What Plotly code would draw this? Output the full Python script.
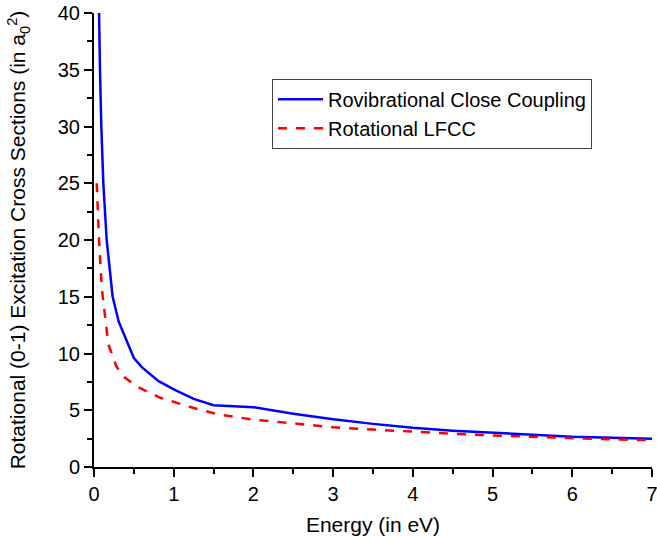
import plotly.graph_objects as go

# Rovibrational Close Coupling (blue, solid)
cc_energy = [0.05, 0.059, 0.075, 0.092, 0.117, 0.159, 0.234, 0.31, 0.41, 0.50, 0.60, 0.81, 1.02, 1.25, 1.5, 2.0, 2.5, 3.0, 3.5, 4.0, 4.5, 5.0, 5.5, 6.0, 6.5, 7.0]
cc_sigma = [46.0, 40.0, 35.0, 30.0, 25.0, 20.0, 15.0, 12.8, 11.1, 9.6, 8.8, 7.56, 6.77, 6.0, 5.45, 5.27, 4.7, 4.2, 3.8, 3.45, 3.2, 3.0, 2.82, 2.66, 2.57, 2.48]

# Rotational LFCC (red, dashed)
lfcc_energy = [0.034, 0.063, 0.097, 0.18, 0.285, 0.39, 0.535, 0.83, 1.25, 1.58, 2.0, 2.5, 3.0, 3.5, 4.0, 4.5, 5.0, 5.5, 6.0, 6.5, 7.0]
lfcc_sigma = [25.0, 20.0, 15.8, 10.8, 8.8, 7.86, 7.1, 6.1, 5.2, 4.6, 4.18, 3.83, 3.5, 3.3, 3.1, 2.93, 2.78, 2.65, 2.51, 2.43, 2.36]

font = "Liberation Sans, Arial, sans-serif"

fig = go.Figure()
fig.add_trace(go.Scatter(x=cc_energy, y=cc_sigma, mode="lines",
                         name="Rovibrational Close Coupling",
                         line=dict(color="#0000ff", width=2.5)))
fig.add_trace(go.Scatter(x=lfcc_energy, y=lfcc_sigma, mode="lines",
                         name="Rotational LFCC",
                         line=dict(color="#ff0000", width=2.5, dash="dash")))

fig.update_layout(
    width=657, height=536,
    margin=dict(l=94, r=5, t=13, b=69),
    paper_bgcolor="white", plot_bgcolor="white",
    font=dict(family=font, size=21, color="black"),
    showlegend=True,
    legend=dict(x=0.319, y=0.855, xanchor="left", yanchor="top",
                bordercolor="#444444", borderwidth=1, bgcolor="white",
                font=dict(family=font, size=20), tracegroupgap=0,
                itemwidth=45),
    xaxis=dict(range=[0, 7], dtick=1, tick0=0, showgrid=False, zeroline=False,
               showline=True, linecolor="black", linewidth=2, automargin=False,
               ticks="outside", ticklen=8, tickwidth=2, tickcolor="black",
               ticklabeloverflow="allow",
               minor=dict(dtick=0.5, ticks="outside", ticklen=5, tickwidth=2, tickcolor="black"),
               tickfont=dict(size=20),
               title=dict(text="Energy (in eV)", font=dict(size=21), standoff=14)),
    yaxis=dict(range=[0, 40], dtick=5, tick0=0, showgrid=False, zeroline=False,
               showline=True, linecolor="black", linewidth=2, automargin=False,
               ticks="outside", ticklen=8, tickwidth=2, tickcolor="black",
               ticklabeloverflow="allow",
               minor=dict(dtick=2.5, ticks="outside", ticklen=5, tickwidth=2, tickcolor="black"),
               tickfont=dict(size=20),
               title=dict(text="Rotational (0-1) Excitation Cross Sections (in a<sub>0</sub><sup>2</sup>)",
                          font=dict(size=21), standoff=26)),
)

fig.write_html("out.html")
